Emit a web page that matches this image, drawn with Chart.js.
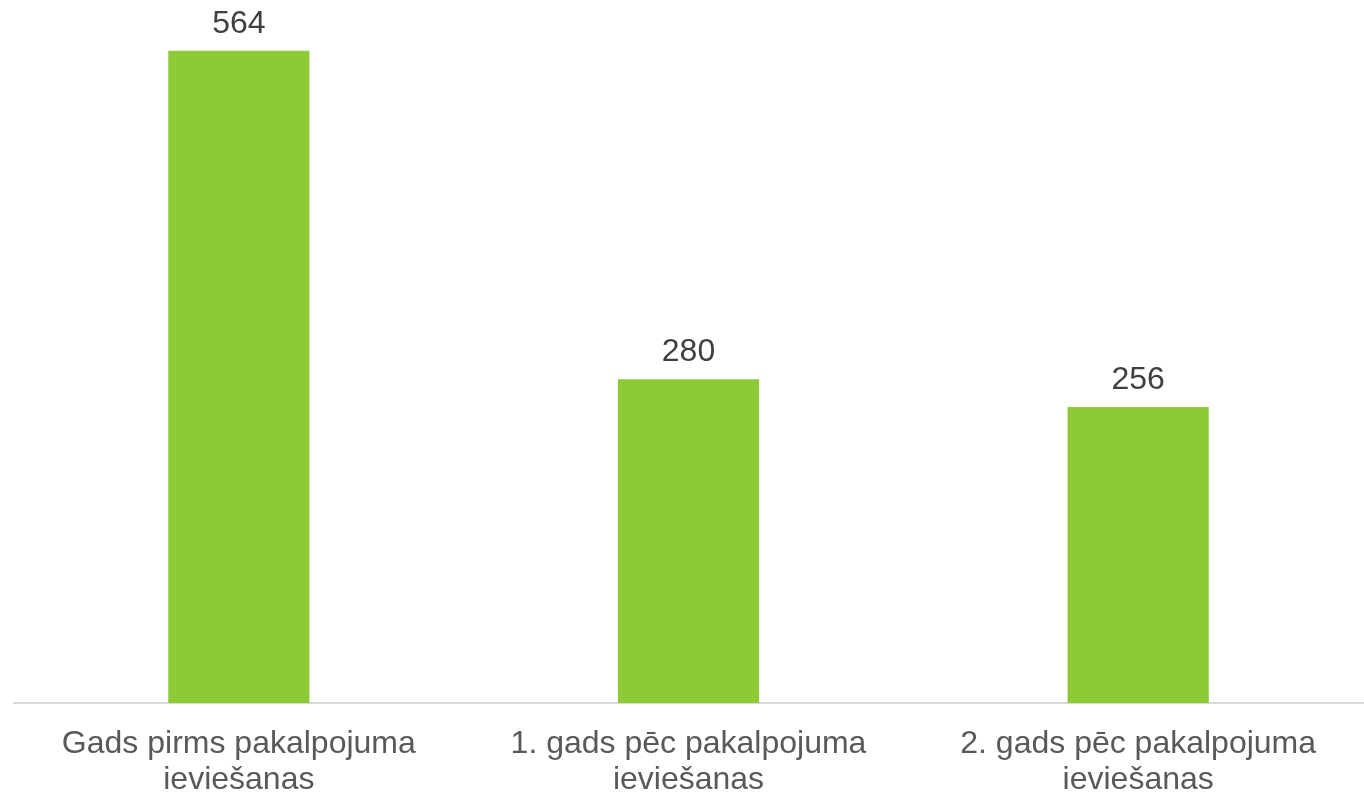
<!DOCTYPE html>
<html>
<head>
<meta charset="utf-8">
<script src="https://cdn.jsdelivr.net/npm/chart.js@4/dist/chart.umd.min.js"></script>
<style>
    html, body { margin: 0; padding: 0; background: #ffffff; }
    #wrap { width: 1364px; height: 793px; }
</style>
</head>
<body>
<div id="wrap"><canvas id="chart"></canvas></div>
<script>
// data
const categories = [
    ['Gads pirms pakalpojuma', 'ieviešanas'],
    ['1. gads pēc pakalpojuma', 'ieviešanas'],
    ['2. gads pēc pakalpojuma', 'ieviešanas']
];
const values = [564, 280, 256];

// draws the number above each bar
const valueLabels = {
    id: 'valueLabels',
    afterDatasetsDraw(chart) {
        const ctx = chart.ctx;
        const meta = chart.getDatasetMeta(0);
        ctx.save();
        ctx.font = '32px "Liberation Sans", Arial, sans-serif';
        ctx.fillStyle = '#404040';
        ctx.textAlign = 'center';
        ctx.textBaseline = 'alphabetic';
        meta.data.forEach((bar, i) => {
            ctx.fillText(String(values[i]), bar.x, bar.y - 18);
        });
        ctx.restore();
    }
};

new Chart(document.getElementById('chart'), {
    type: 'bar',
    data: {
        labels: categories,
        datasets: [{
            data: values,
            backgroundColor: '#8CCB36',
            categoryPercentage: 1,
            barPercentage: 0.314
        }]
    },
    options: {
        responsive: true,
        maintainAspectRatio: false,
        animation: false,
        layout: { padding: { top: 9, left: 14, right: 1, bottom: 0 } },
        plugins: {
            legend: { display: false },
            tooltip: { enabled: false }
        },
        scales: {
            x: {
                grid: { display: false, drawTicks: false },
                border: { display: true, color: '#D9D9D9', width: 2 },
                // keep the plot bottom at the same place as the reference
                afterFit(scale) { scale.height = 90; },
                ticks: {
                    color: '#595959',
                    padding: 23,
                    maxRotation: 0,
                    font: { family: '"Liberation Sans", Arial, sans-serif', size: 32, lineHeight: 1.13 }
                }
            },
            y: {
                display: false,
                min: 0,
                max: 600
            }
        }
    },
    plugins: [valueLabels]
});
</script>
</body>
</html>
